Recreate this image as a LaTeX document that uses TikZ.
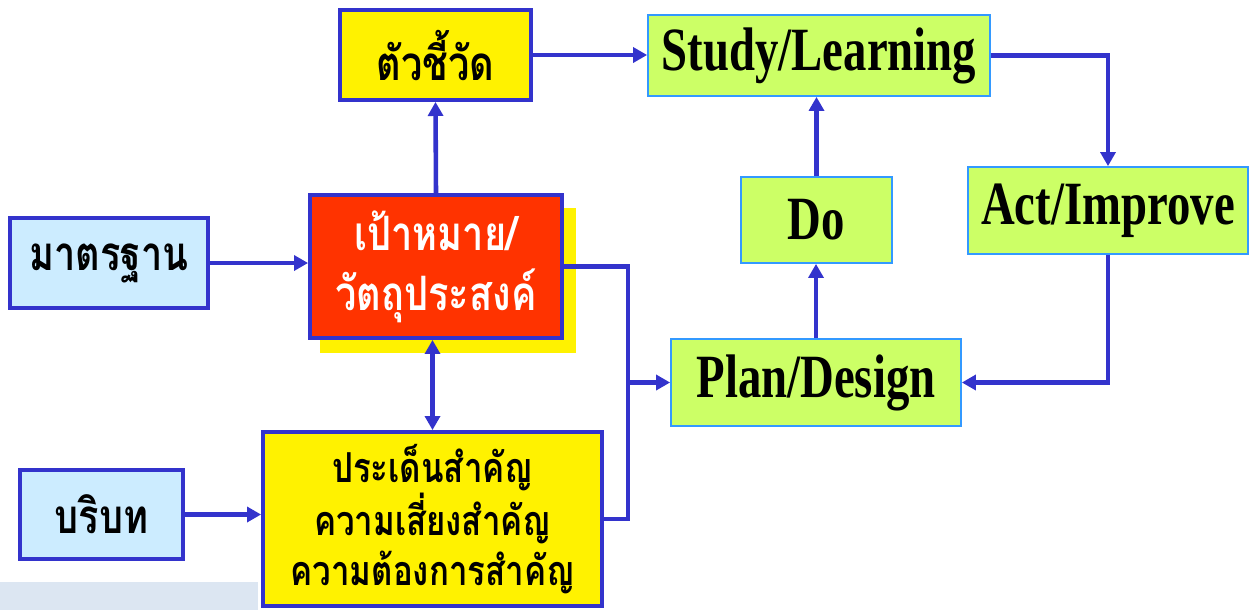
\documentclass[tikz,border=0pt]{standalone}
\usepackage{fontspec}
\setmainfont{Liberation Serif}
\newfontfamily\thaifont[Script=Thai,FakeStretch=0.8]{Loma}
\newfontfamily\engfont[FakeStretch=0.76]{Liberation Serif}
\usetikzlibrary{arrows.meta}
\definecolor{linkblue}{HTML}{3333CC}
\definecolor{edgeblue}{HTML}{3399FF}
\definecolor{pdsagreen}{HTML}{CCFF66}
\definecolor{skyfill}{HTML}{CCECFF}
\definecolor{goalred}{HTML}{FF3300}
\definecolor{notegray}{HTML}{DCE6F2}

\begin{document}
\begin{tikzpicture}[x=0.02cm,y=-0.02cm,
  thaibox/.style={draw=linkblue,line width=2.2pt,align=center,inner sep=0pt,
    font=\thaifont\bfseries\fontsize{27}{34}\selectfont},
  cyclebox/.style={draw=edgeblue,line width=1pt,fill=pdsagreen,inner sep=0pt,
    font=\engfont\bfseries\fontsize{35}{40}\selectfont},
  link/.style={draw=linkblue,line width=2.6pt},
  arr/.style={link,-{Triangle[length=8pt,width=8.5pt]}}]
  \useasboundingbox (0,0) rectangle (1250,609);
  \fill[notegray] (0,582) rectangle (258,612);
  % left side: inputs and goal
  \node[thaibox,fill=yellow,minimum width=3.82cm,minimum height=1.8cm] (kpi) at (435.5,55) {ตัวชี้วัด};
  \fill[yellow] (320,208) rectangle (576,353);
  \node[thaibox,fill=goalred,text=white,minimum width=5.04cm,minimum height=2.86cm] (goal) at (436,266.5) {เป้าหมาย/\\วัตถุประสงค์};
  \node[thaibox,fill=skyfill,minimum width=3.96cm,minimum height=1.8cm] (std) at (109,263) {มาตรฐาน};
  \node[thaibox,fill=skyfill,minimum width=3.26cm,minimum height=1.78cm] (ctx) at (101.5,514.5) {บริบท};
  \node[thaibox,fill=yellow,minimum width=6.78cm,minimum height=3.48cm,
    font=\thaifont\bfseries\fontsize{23.5}{28.5}\selectfont] (issue) at (432.5,519) {ประเด็นสำคัญ\\ความเสี่ยงสำคัญ\\ความต้องการสำคัญ};
  % right side: PDSA cycle
  \node[cyclebox,minimum width=6.84cm,minimum height=1.62cm] (study) at (819,55.5) {Study/Learning};
  \node[cyclebox,minimum width=5.6cm,minimum height=1.74cm] (act) at (1108,210.5) {Act/Improve};
  \node[cyclebox,minimum width=3.02cm,minimum height=1.72cm] (do) at (816.5,220) {Do};
  \node[cyclebox,minimum width=5.8cm,minimum height=1.74cm] (plan) at (816,382.5) {Plan/Design};

  \draw[arr] (kpi.east) -- (study.west |- kpi.east);
  \draw[arr] (goal.north) -- (kpi.south);
  \draw[arr] (std.east) -- (std.east -| goal.west);
  \draw[arr,{Triangle[length=8pt,width=8.5pt]}-{Triangle[length=8pt,width=8.5pt]}] (issue.north |- goal.south) -- (issue.north);
  \draw[arr] (ctx.east) -- (ctx.east -| issue.west);
  \draw[link] (goal.east) -- ++(64,0) coordinate (split) |- (issue.east);
  \draw[arr] (split |- plan.west) -- (plan.west);
  \draw[arr] (plan.north) -- (plan.north |- do.south);
  \draw[arr] (do.north) -- (do.north |- study.south);
  \draw[arr] (study.east) -| (act.north);
  \draw[arr] (act.south) |- (plan.east);
\end{tikzpicture}
\end{document}
